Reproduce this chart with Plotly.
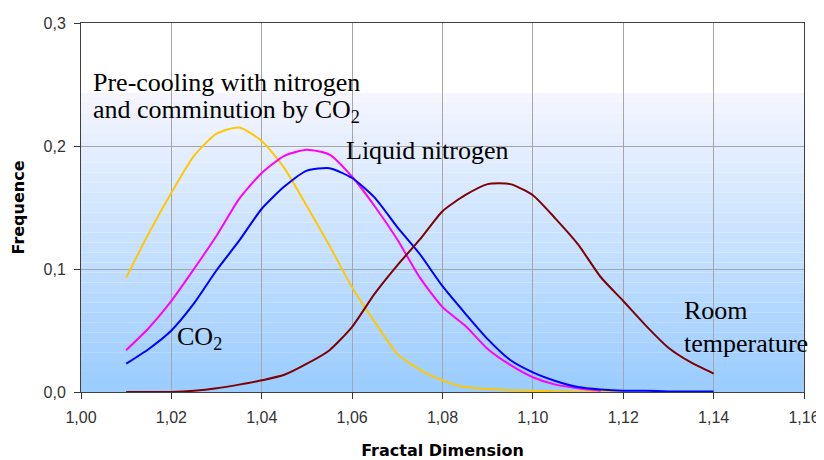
import plotly.graph_objects as go

# ---- data ----
x_vals = [1.010, 1.015, 1.020, 1.025, 1.030, 1.035, 1.040, 1.045, 1.050, 1.055,
          1.060, 1.065, 1.070, 1.075, 1.080, 1.085, 1.090, 1.095, 1.100, 1.105,
          1.110, 1.115, 1.120, 1.125, 1.130, 1.135, 1.140]

precool_co2 = [0.093, 0.129, 0.162, 0.192, 0.210, 0.215, 0.204, 0.182, 0.151, 0.119,
               0.085, 0.057, 0.031, 0.018, 0.0095, 0.004, 0.0025, 0.0015, 0.001, 0.0005,
               0.0003, 0.0002, 0.0001]

liquid_n2 = [0.034, 0.052, 0.074, 0.100, 0.127, 0.157, 0.178, 0.192, 0.197, 0.193,
             0.175, 0.151, 0.124, 0.093, 0.069, 0.054, 0.035, 0.022, 0.012, 0.006,
             0.003, 0.001]

co2 = [0.023, 0.035, 0.050, 0.072, 0.099, 0.123, 0.149, 0.167, 0.180, 0.182,
       0.174, 0.158, 0.134, 0.112, 0.086, 0.064, 0.043, 0.026, 0.016, 0.009,
       0.004, 0.002, 0.001, 0.001, 0.0005, 0.0005, 0.0005]

room_temp = [0.0, 0.0, 0.0, 0.001, 0.003, 0.006, 0.0095, 0.014, 0.023, 0.034,
             0.053, 0.080, 0.103, 0.124, 0.147, 0.160, 0.169, 0.169, 0.160, 0.141,
             0.120, 0.0935, 0.074, 0.054, 0.036, 0.024, 0.015]

x_ticks = [1.00, 1.02, 1.04, 1.06, 1.08, 1.10, 1.12, 1.14, 1.16]
y_ticks = [0.0, 0.1, 0.2, 0.3]

fig = go.Figure()

series = [
    (precool_co2, "#FFC800"),
    (liquid_n2, "#FF00FF"),
    (co2, "#0000FF"),
    (room_temp, "#800000"),
]
for vals, col in series:
    fig.add_trace(go.Scatter(x=x_vals[:len(vals)], y=vals, mode="lines",
                             line=dict(color=col, width=2, shape="spline", smoothing=0.6),
                             showlegend=False, hoverinfo="skip"))

# gradient background (bands)
top_grad = 0.243
n = 30
c0 = (153, 204, 255)   # bottom
c1 = (246, 246, 255)   # top of gradient
shapes = []
for i in range(n):
    y0 = top_grad * i / n
    y1 = top_grad * (i + 1) / n
    t = (i + 0.5) / n
    r = round(c0[0] + (c1[0] - c0[0]) * t)
    g = round(c0[1] + (c1[1] - c0[1]) * t)
    b = round(c0[2] + (c1[2] - c0[2]) * t)
    shapes.append(dict(type="rect", xref="x", yref="y", x0=1.0, x1=1.16, y0=y0, y1=y1,
                       fillcolor=f"rgb({r},{g},{b})", line=dict(width=0), layer="below"))

serif = "Liberation Serif, Times New Roman, serif"
ann_font = dict(family=serif, size=26, color="black")
annotations = [
    dict(x=1.0023, y=0.2518, text="Pre-cooling with nitrogen"),
    dict(x=1.0023, y=0.2282, text="and comminution by CO<sub>2</sub>"),
    dict(x=1.0581, y=0.196, text="Liquid nitrogen"),
    dict(x=1.0208, y=0.0437, text="CO<sub>2</sub>"),
    dict(x=1.1329, y=0.0665, text="Room"),
    dict(x=1.1329, y=0.0396, text="temperature"),
]
for a in annotations:
    a.update(xref="x", yref="y", showarrow=False, font=ann_font,
             xanchor="left", yanchor="middle", align="left")

tick_font = dict(family="Liberation Sans, Arial, sans-serif", size=16, color="#333333")
title_font = dict(family="DejaVu Sans, Verdana, sans-serif", size=16, color="black")

# the page body adds an 8px offset; figure sized to fill the rest of the window
fig.update_layout(
    width=816, height=452,
    margin=dict(l=73, r=20, t=15, b=68),
    paper_bgcolor="white", plot_bgcolor="white",
    separators=",.",
    shapes=shapes,
    annotations=annotations,
    xaxis=dict(range=[1.0, 1.16], tickvals=x_ticks, tickformat=".2f",
               showgrid=True, gridcolor="#a6a6a6", gridwidth=1,
               ticks="outside", ticklen=6, tickcolor="#333333",
               showline=True, linecolor="#404040", linewidth=1, mirror=True,
               zeroline=False, tickfont=tick_font, automargin=False,
               ticklabelstandoff=5,
               title=dict(text="<b>Fractal Dimension</b>", font=title_font, standoff=24)),
    yaxis=dict(range=[0, 0.3], tickvals=y_ticks, tickformat=".1f",
               showgrid=True, gridcolor="#a6a6a6", gridwidth=1,
               ticks="outside", ticklen=6, tickcolor="#333333",
               showline=True, linecolor="#404040", linewidth=1, mirror=True,
               zeroline=False, tickfont=tick_font, automargin=False,
               ticklabelstandoff=5,
               title=dict(text="<b>Frequence</b>", font=title_font, standoff=14)),
)

fig.write_html("out.html")
